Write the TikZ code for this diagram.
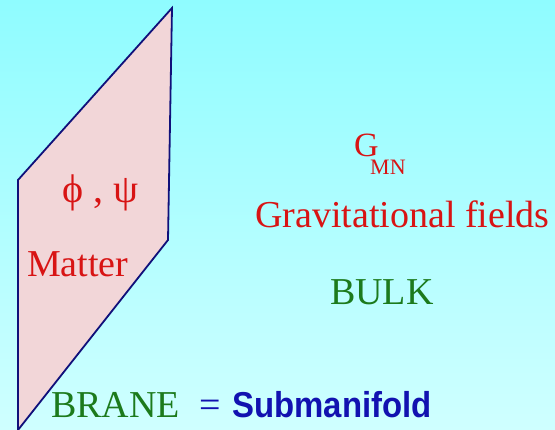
\documentclass[tikz,border=0pt]{standalone}
\usepackage{fontspec}
\setmainfont{Liberation Serif}
\setsansfont{Liberation Sans}
\usepackage{xcolor}
\usetikzlibrary{positioning}

\definecolor{skytop}{HTML}{8FFCFF}
\definecolor{skybot}{HTML}{CFFFFF}
\definecolor{branefill}{HTML}{F2D6D8}
\definecolor{braneedge}{HTML}{10107A}
\definecolor{txtred}{HTML}{D81414}
\definecolor{txtgreen}{HTML}{1C7A1C}
\definecolor{txtblue}{HTML}{1212B0}

\begin{document}
\begin{tikzpicture}[
  x=1pt, y=-1pt,
  lbl/.style={inner sep=0pt, anchor=base west, font=\fontsize{38}{40}\selectfont},
  red lbl/.style={lbl, text=txtred},
  green lbl/.style={lbl, text=txtgreen}
]
\useasboundingbox (0,0) rectangle (555,430);
\shade[top color=skytop, bottom color=skybot] (0,0) rectangle (555,430);

% the brane sheet
\coordinate (p1) at (18,180);
\coordinate (p2) at (172,8);
\coordinate (p3) at (168,240);
\coordinate (p4) at (18,430);
\draw[braneedge, fill=branefill, line width=1.8pt] (p1) -- (p2) -- (p3) -- (p4) -- cycle;

\node[inner sep=0pt, text=txtred, font=\fontsize{40}{42}\selectfont] (fields) at (101,193) {ϕ , ψ};
\node[red lbl] (matter) at (27,277) {Matter};

\node[red lbl, font=\fontsize{34}{36}\selectfont] (g) at (354,157) {G};
\node[red lbl, font=\fontsize{22}{24}\selectfont] (mn) at (370,175) {MN};
\node[red lbl] (grav) at (255,228) {Gravitational fields};

\node[green lbl] (bulk) at (330,305) {BULK};
\node[green lbl] (brane) at (51,418) {BRANE};
\node[lbl, text=txtblue] (eq) at (199,418) {=};
\node[lbl, text=txtblue, xscale=0.915, font=\fontsize{36}{38}\selectfont\sffamily\bfseries] (sub) at (232,418) {Submanifold};
\end{tikzpicture}
\end{document}
